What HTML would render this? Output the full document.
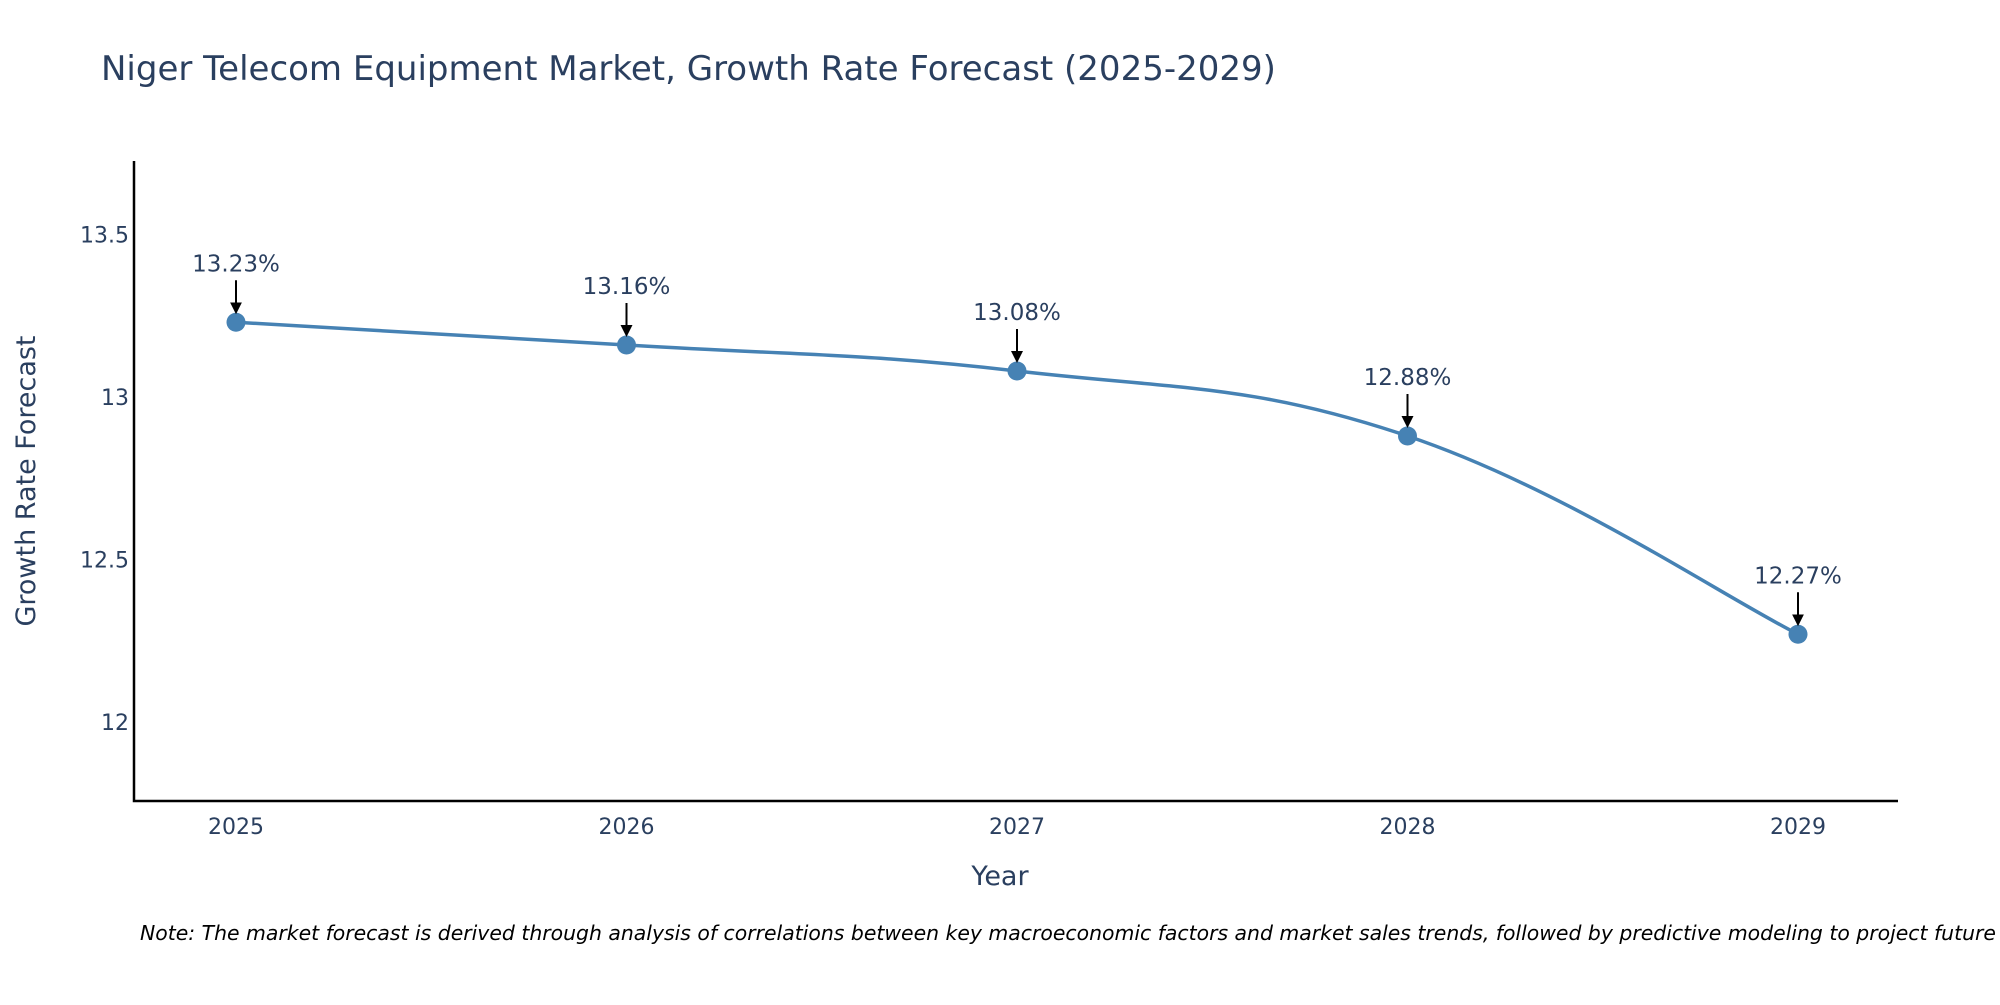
<!DOCTYPE html>
<html><head><meta charset="utf-8"><style>
body{margin:0;background:#fff;}
svg text{font-family:"DejaVu Sans","Liberation Sans",sans-serif;}
</style></head><body>
<svg width="2000" height="1000" xmlns="http://www.w3.org/2000/svg">
<text x="101" y="80" font-size="34" fill="#2a3f5f">Niger Telecom Equipment Market, Growth Rate Forecast (2025-2029)</text>
<g id="plot"></g>
<text x="1000" y="885" font-size="27" fill="#2a3f5f" text-anchor="middle">Year</text>
<text transform="translate(35,481) rotate(-90)" font-size="27" fill="#2a3f5f" text-anchor="middle">Growth Rate Forecast</text>
<text x="140" y="940" font-size="20.4" font-style="italic" fill="#000">Note: The market forecast is derived through analysis of correlations between key macroeconomic factors and market sales trends, followed by predictive modeling to project future sales.</text>
</svg>
<script>
const years=[2025,2026,2027,2028,2029];
const values=[13.23,13.16,13.08,12.88,12.27];
const labels=["13.23%","13.16%","13.08%","12.88%","12.27%"];
const yTicks=[12,12.5,13,13.5];
const NS="http://www.w3.org/2000/svg";
const g=document.getElementById('plot');
const X0=134,X1=1898,Y0=161,Y1=801;
const xs=v=>236+(v-2025)*390.5;
const ys=v=>397-(v-13)*325;
function mk(t,a,p){const e=document.createElementNS(NS,t);for(const k in a)e.setAttribute(k,a[k]);(p||g).appendChild(e);return e;}
const defs=mk('defs',{});
const m=mk('marker',{id:'ah',markerWidth:'6',markerHeight:'6',refX:'5',refY:'3',orient:'auto',markerUnits:'strokeWidth'},defs);
mk('path',{d:'M0,0 L6,3 L0,6 Z',fill:'#000'},m);
const ax=mk('path',{d:`M${X0},${Y0} V${Y1} H${X1}`,stroke:'#000','stroke-width':'2.5',fill:'none'});


yTicks.forEach(t=>{const e=mk('text',{x:X0-5,y:ys(t)+8,'font-size':'22',fill:'#2a3f5f','text-anchor':'end'});e.textContent=String(t);

});
years.forEach(y=>{const e=mk('text',{x:xs(y),y:834,'font-size':'22',fill:'#2a3f5f','text-anchor':'middle'});e.textContent=String(y);

});
const P=years.map((y,i)=>[xs(y),ys(values[i])]);
let d=`M${P[0][0]},${P[0][1]}`;const s=0.2;
for(let i=0;i<P.length-1;i++){const p0=P[Math.max(i-1,0)],p1=P[i],p2=P[i+1],p3=P[Math.min(i+2,P.length-1)];
d+=` C${p1[0]+(p2[0]-p0[0])*s},${p1[1]+(p2[1]-p0[1])*s} ${p2[0]-(p3[0]-p1[0])*s},${p2[1]-(p3[1]-p1[1])*s} ${p2[0]},${p2[1]}`;}
const ln=mk('path',{d:d,stroke:'#4682b4','stroke-width':'3.5',fill:'none'});


P.forEach((p,i)=>{const c=mk('circle',{cx:p[0],cy:p[1],r:'9.5',fill:'#4682b4'});


const a=mk('line',{x1:p[0],y1:p[1]-42,x2:p[0],y2:p[1]-10,stroke:'#000','stroke-width':'2','marker-end':'url(#ah)'});


const t=mk('text',{x:p[0],y:p[1]-51,'font-size':'23',fill:'#2a3f5f','text-anchor':'middle'});t.textContent=labels[i];

});
</script>
</body></html>
